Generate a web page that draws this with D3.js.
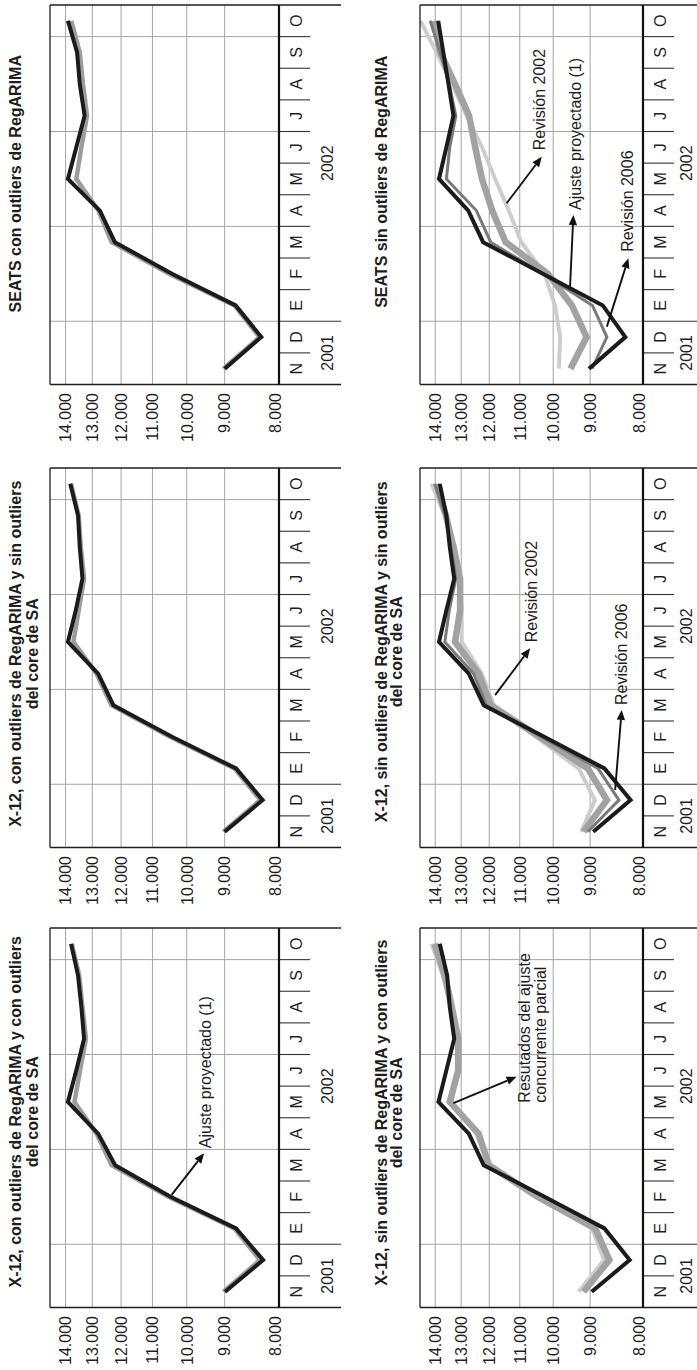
<!DOCTYPE html>
<html>
<head>
<meta charset="utf-8">
<script src="https://cdn.jsdelivr.net/npm/d3@7"></script>
<style>
  html, body { margin: 0; padding: 0; background: #fff; }
  svg { display: block; }
  text { font-family: "Liberation Sans", Arial, Helvetica, sans-serif; }
</style>
</head>
<body>
<svg id="fig" width="697" height="1370"></svg>
<script>
// ---- categories and axis labels ----
const months = ["N", "D", "E", "F", "M", "A", "M", "J", "J", "A", "S", "O"];
const yearGroups = [
  { label: "2001", first: 0, last: 1 },
  { label: "2002", first: 2, last: 11 }
];
const yTickValues = [14000, 13000, 12000, 11000, 10000, 9000];
const yTickLabels = ["14.000", "13.000", "12.000", "11.000", "10.000", "9.000"];
const yFloorLabel = "8.000";
const yDomain = [7740, 14620];          // logarithmic value axis
const quarterStarts = [2, 5, 8, 11];    // category boundaries with a grid line

// ---- series (Nov 2001 - Oct 2002) ----
// X-12, con outliers de RegARIMA y con outliers del core de SA
const x12ConCon_final = [8990, 8090, 8720, 10460, 12200, 12790, 13910, 13590, 13300, 13400, 13525, 13790];
const x12ConCon_proj  = [9030, 8160, 8760, 10520, 12320, 12850, 13660, 13450, 13230, 13360, 13480, 13760];
// X-12, con outliers de RegARIMA y sin outliers del core de SA
const x12ConSin_final = [9000, 8100, 8720, 10420, 12260, 12790, 13910, 13610, 13360, 13460, 13525, 13820];
const x12ConSin_proj  = [9030, 8150, 8760, 10480, 12330, 12850, 13700, 13500, 13300, 13420, 13500, 13790];
// SEATS con outliers de RegARIMA
const seatsCon_final  = [9000, 8130, 8730, 10420, 12210, 12730, 13910, 13590, 13280, 13460, 13560, 13910];
const seatsCon_proj   = [9030, 8170, 8760, 10500, 12320, 12780, 13590, 13400, 13190, 13340, 13460, 13780];
// X-12, sin outliers de RegARIMA y con outliers del core de SA
const x12SinCon_final = [8960, 8040, 8640, 10250, 12190, 12720, 13870, 13560, 13260, 13430, 13530, 13820];
const x12SinCon_part  = [9170, 8520, 8870, 10460, 12010, 12370, 13430, 13110, 13110, 13350, 13620, 14020];
const x12SinCon_light = [9300, 8650, 8950, 10500, 12050, 12450, 13350, 13150, 13150, 13400, 13700, 14150];
// X-12, sin outliers de RegARIMA y sin outliers del core de SA
const x12SinSin_final = [8920, 8020, 8640, 10260, 12190, 12720, 13850, 13560, 13260, 13430, 13560, 13820];
const x12SinSin_r2006 = [9060, 8290, 8800, 10350, 12100, 12550, 13620, 13450, 13200, 13380, 13600, 14020];
const x12SinSin_proj  = [9170, 8580, 9060, 10400, 11950, 12370, 13230, 13040, 13040, 13290, 13580, 13950];
const x12SinSin_r2002 = [9230, 8880, 9300, 10500, 11840, 12260, 12980, 12980, 13040, 13230, 13620, 14150];
// SEATS sin outliers de RegARIMA
const seatsSin_final  = [9030, 8140, 8680, 10300, 12210, 12740, 13850, 13560, 13290, 13480, 13680, 13880];
const seatsSin_r2006  = [8950, 8580, 8940, 10300, 11950, 12450, 13560, 13430, 13200, 13450, 13800, 14200];
const seatsSin_proj   = [9520, 9090, 9480, 10150, 11450, 11900, 12250, 12490, 12710, 13230, 13800, 14020];
const seatsSin_r2002  = [9840, 9800, 9950, 10250, 10950, 11350, 11800, 12250, 12800, 13350, 13950, 14600];

// ---- line styles ----
const ST = {
  black:  { color: "#1b1b1b", width: 4 },
  dark:   { color: "#7a7a7a", width: 3 },
  mid:    { color: "#9c9c9c", width: 4.5 },
  thick:  { color: "#a2a2a2", width: 6.5 },
  light:  { color: "#cdcdcd", width: 4 }
};

// ---- panels (laid out upright, the whole figure is turned a quarter left) ----
const panels = [
  { row: 0, col: 0, title: ["X-12, con outliers de RegARIMA y con outliers", "del core de SA"], shift: 6,
    series: [[x12ConCon_proj, ST.mid], [x12ConCon_final, ST.black]],
    notes: [{ lines: ["Ajuste proyectado (1)"], from: [3.06, 10430], to: [4.38, 9530], dx: 5, dy: 7 }] },
  { row: 0, col: 1, title: ["X-12, con outliers de RegARIMA y sin outliers", "del core de SA"], shift: 4,
    series: [[x12ConSin_proj, ST.mid], [x12ConSin_final, ST.black]], notes: [] },
  { row: 0, col: 2, title: ["SEATS con outliers de RegARIMA"], shift: 11,
    series: [[seatsCon_proj, ST.mid], [seatsCon_final, ST.black]], notes: [] },
  { row: 1, col: 0, title: ["X-12, sin outliers de RegARIMA y con outliers", "del core de SA"], shift: 5,
    series: [[x12SinCon_light, ST.light], [x12SinCon_part, ST.thick], [x12SinCon_final, ST.black]],
    notes: [{ lines: ["Resutados del ajuste", "concurrente parcial"], from: [5.96, 13290], to: [6.8, 11100], dx: -26, dy: 13.5 }] },
  { row: 1, col: 1, title: ["X-12, sin outliers de RegARIMA y sin outliers", "del core de SA"], shift: 6,
    series: [[x12SinSin_r2002, ST.light], [x12SinSin_proj, ST.thick], [x12SinSin_r2006, ST.dark], [x12SinSin_final, ST.black]],
    notes: [
      { lines: ["Revisión 2002"], from: [4.32, 11800], to: [5.8, 10680], dx: 6, dy: 7 },
      { lines: ["Revisión 2006"], from: [1.32, 8380], to: [3.85, 8225], dx: 5, dy: 5 }
    ] },
  { row: 1, col: 2, title: ["SEATS sin outliers de RegARIMA"], shift: 13,
    series: [[seatsSin_r2002, ST.light], [seatsSin_proj, ST.thick], [seatsSin_r2006, ST.dark], [seatsSin_final, ST.black]],
    notes: [
      { lines: ["Revisión 2002"], from: [5.23, 11420], to: [6.7, 10330], dx: 6.5, dy: 3.5 },
      { lines: ["Ajuste proyectado (1)"], from: [2.59, 9530], to: [4.86, 9440], dx: 5, dy: 7.5 },
      { lines: ["Revisión 2006"], from: [1.33, 8580], to: [3.49, 8070], dx: 6.5, dy: 4.5 }
    ] }
];

const FIG_W = 1370;
const colX = [62.5, 522.5, 985.5];
const plotW = 379.5;
const rows = [
  { top: 50, bottom: 279, titleBase: [21, 37.5], yearBase: 332.5 },
  { top: 420, bottom: 643, titleBase: [386.5, 402], yearBase: 692 }
];

const svg = d3.select("#fig");
const root = svg.append("g").attr("transform", `translate(0,${FIG_W}) rotate(-90)`);

const INK = "#1e1e1e";

panels.forEach(p => {
  const x0 = colX[p.col], x1 = x0 + plotW;
  const { top, bottom, titleBase, yearBase } = rows[p.row];
  const x = d3.scaleBand().domain(d3.range(months.length)).range([x0, x1]).padding(0);
  const bw = x.bandwidth();
  const xc = i => x0 + bw * (i + 0.5);
  const y = d3.scaleLog().domain(yDomain).range([bottom, top]);
  const g = root.append("g");

  // value grid
  g.append("g").selectAll("line").data(yTickValues).join("line")
    .attr("x1", x0).attr("x2", x1)
    .attr("y1", d => y(d)).attr("y2", d => y(d))
    .attr("stroke", "#a4a4a4").attr("stroke-width", 1);
  // quarterly grid
  g.append("g").selectAll("line").data(quarterStarts).join("line")
    .attr("x1", d => x(d)).attr("x2", d => x(d))
    .attr("y1", top).attr("y2", bottom)
    .attr("stroke", "#a4a4a4").attr("stroke-width", 1);

  // series
  const line = d3.line().x((d, i) => x(i) + bw / 2).y(d => y(d));
  p.series.forEach(([vals, st]) => {
    g.append("path").datum(vals).attr("d", line)
      .attr("fill", "none").attr("stroke", st.color).attr("stroke-width", st.width)
      .attr("stroke-linejoin", "miter").attr("stroke-miterlimit", 6);
  });

  // frame and category table
  const tableEnd = bottom + 62;
  g.append("line").attr("x1", x0).attr("x2", x1).attr("y1", top).attr("y2", top)
    .attr("stroke", INK).attr("stroke-width", 1.3);
  [x0, x1].forEach(xx => g.append("line").attr("x1", xx).attr("x2", xx)
    .attr("y1", top).attr("y2", tableEnd).attr("stroke", INK).attr("stroke-width", 1.3));
  g.append("g").selectAll("line").data(d3.range(1, months.length)).join("line")
    .attr("x1", d => x(d)).attr("x2", d => x(d))
    .attr("y1", bottom).attr("y2", d => yearGroups.some(yg => yg.first === d) ? tableEnd : bottom + 31)
    .attr("stroke", "#333").attr("stroke-width", 1.1);
  g.append("line").attr("x1", x0).attr("x2", x1).attr("y1", bottom).attr("y2", bottom)
    .attr("stroke", "#111").attr("stroke-width", 2.2);

  g.append("g").selectAll("text").data(months).join("text")
    .attr("x", (d, i) => xc(i)).attr("y", bottom + 23)
    .attr("text-anchor", "middle").attr("font-size", 16).attr("fill", INK)
    .text(d => d);
  g.append("g").selectAll("text").data(yearGroups).join("text")
    .attr("x", d => (x(d.first) + x(d.last) + bw) / 2).attr("y", yearBase)
    .attr("text-anchor", "middle").attr("font-size", 16).attr("fill", INK)
    .text(d => d.label);

  // value labels
  g.append("g").selectAll("text").data(yTickValues).join("text")
    .attr("x", x0 - 8.5).attr("y", d => y(d)).attr("dy", "0.36em")
    .attr("text-anchor", "end").attr("font-size", 16).attr("fill", INK)
    .text((d, i) => yTickLabels[i]);
  g.append("text").attr("x", x0 - 8.5).attr("y", y(yDomain[0]) - 4).attr("dy", "0.36em")
    .attr("text-anchor", "end").attr("font-size", 16).attr("fill", INK)
    .text(yFloorLabel);

  // title
  g.append("g").selectAll("text").data(p.title).join("text")
    .attr("x", (x0 + x1) / 2 + p.shift).attr("y", (d, i) => titleBase[i])
    .attr("text-anchor", "middle").attr("font-size", 16).attr("font-weight", "bold").attr("fill", INK)
    .text(d => d);

  // call-outs
  p.notes.forEach(n => {
    const sx = xc(n.from[0]), sy = y(n.from[1]);
    const tx = xc(n.to[0]), ty = y(n.to[1]);
    const ang = Math.atan2(ty - sy, tx - sx);
    const hl = 10, hw = 4.2;
    const bx = tx - hl * Math.cos(ang), by = ty - hl * Math.sin(ang);
    g.append("line").attr("x1", sx).attr("y1", sy).attr("x2", bx).attr("y2", by)
      .attr("stroke", "#111").attr("stroke-width", 1.9);
    g.append("path")
      .attr("d", `M${tx},${ty}L${bx + hw * Math.sin(ang)},${by - hw * Math.cos(ang)}L${bx - hw * Math.sin(ang)},${by + hw * Math.cos(ang)}Z`)
      .attr("fill", "#111");
    g.append("g").selectAll("text").data(n.lines).join("text")
      .attr("x", tx + n.dx).attr("y", (d, i) => ty + n.dy + i * 16)
      .attr("font-size", 16).attr("fill", INK)
      .text(d => d);
  });
});
</script>
</body>
</html>
